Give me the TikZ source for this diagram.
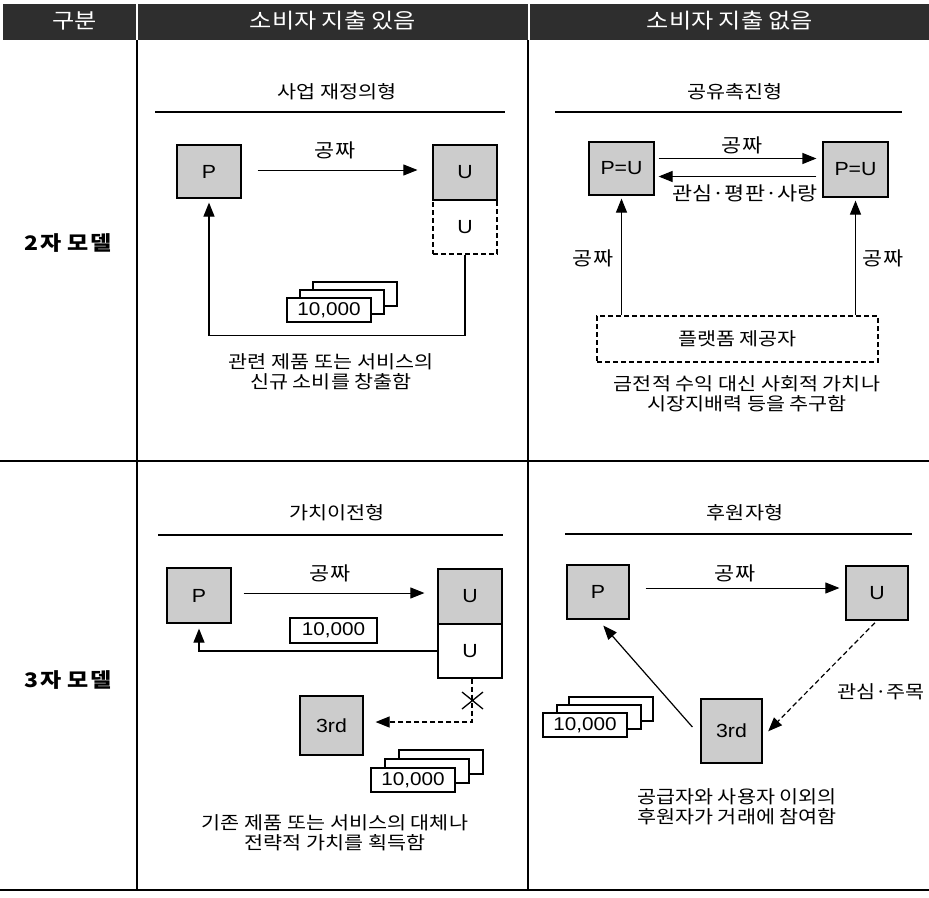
\documentclass[tikz,border=0pt]{standalone}
\usepackage{fontspec}
\setmainfont{Noto Sans CJK KR}
\newfontfamily\krs{Noto Sans CJK KR}[FakeStretch=1.15]
\newfontfamily\krw{Noto Sans CJK KR}[FakeStretch=1.15, LetterSpace=6]
\newfontfamily\lat{Liberation Sans}[FakeStretch=1.12]
\usetikzlibrary{arrows.meta,calc}
\tikzset{
  box/.style={draw, line width=1.2pt, fill=black!20, inner sep=0pt, font=\lat\fontsize{19}{20}\selectfont},
  wbox/.style={draw, line width=1.2pt, fill=white, inner sep=0pt, font=\lat\fontsize{19}{20}\selectfont},
  bill/.style={draw, line width=1.2pt, fill=white, minimum width=84pt, minimum height=24pt, inner sep=0pt, font=\lat\fontsize{18.5}{20}\selectfont},
  lbl/.style={font=\krs\fontsize{18}{20}\selectfont, inner sep=1pt},
  albl/.style={font=\krs\fontsize{19}{20}\selectfont, inner sep=1pt},
  captxt/.style={font=\krs\fontsize{18}{19.5}\selectfont, align=center, inner sep=0pt},
  arr/.style={line width=1.2pt, -{Triangle[length=14pt,width=11pt]}},
  dsh/.style={dash pattern=on 5pt off 3pt},
  hd/.style={text=white, font=\krs\fontsize{21}{22}\selectfont},
  rowl/.style={font=\krw\bfseries\fontsize{20}{22}\selectfont},
  gridln/.style={line width=1.3pt},
  uline/.style={line width=1.1pt}
}
\begin{document}
\begin{tikzpicture}[x=1pt,y=-1pt]
\useasboundingbox (0,0) rectangle (929,897);
% header
\fill[black!82] (3,4) rectangle (929,40);
\draw[white, line width=1.2pt] (137,4) -- (137,40);
\draw[white, line width=1.2pt] (529,4) -- (529,40);
\node[hd] (h1) at (75,21) {구분};
\node[hd] (h2) at (333,21) {소비자 지출 있음};
\node[hd] (h3) at (730,21) {소비자 지출 없음};
% grid
\draw[gridln] (137,40) -- (137,890);
\draw[gridln] (528,40) -- (528,890);
\draw[gridln] (0,461) -- (929,461);
\draw[gridln] (0,890) -- (929,890);
\node[rowl] (r1) at (68,243) {2자 모델};
\node[rowl] (r2) at (68,680) {3자 모델};

% ---------- Q1 ----------
\node[lbl] (t1) at (337,92) {사업 재정의형};
\draw[uline] (155,112) -- (505,112);
\node[box, minimum width=64pt, minimum height=53pt] (P1) at (209,171.5) {P};
\node[wbox, dsh, minimum width=64pt, minimum height=54pt] (U1b) at (465,227) {U};
\node[box, minimum width=64pt, minimum height=55pt] (U1a) at (465,172.5) {U};
\node[albl] (f1) at (335,150) {공짜};
\draw[arr, line width=0.9pt, shorten <=16pt, shorten >=15pt] (P1.east |- 0,170) -- (U1a.west |- 0,170);
\draw[arr, shorten >=4pt] (U1b.south) -- ++(0,81) -| (P1.south);
\node[bill] (b1c) at (355,294) {};
\node[bill] (b1b) at (342,302) {};
\node[bill] (b1a) at (329,310) {10,000};
\node[captxt] (c1) at (331,372) {관련 제품 또는 서비스의\\신규 소비를 창출함};

% ---------- Q2 ----------
\node[lbl] (t2) at (735,92) {공유촉진형};
\draw[uline] (555,112) -- (902,112);
\node[box, minimum width=65pt, minimum height=53pt] (L2) at (621.5,168.5) {P=U};
\node[box, minimum width=65pt, minimum height=55pt] (R2) at (855.5,169.5) {P=U};
\draw[arr] ($(L2.east)+(4,-10)$) -- ($(R2.west)+(-6,-11)$);
\draw[arr] ($(R2.west)+(-6,7)$) -- ($(L2.east)+(4,8)$);
\node[albl] (f2) at (742,145) {공짜};
\node[albl] (g2) at (745,193) {관심·평판·사랑};
\node[draw, dsh, line width=1.2pt, minimum width=281pt, minimum height=46pt, lbl] (plat) at (737.5,339) {플랫폼 제공자};
\draw[arr, shorten >=3pt] (L2.south |- plat.north) -- (L2.south);
\draw[arr, shorten >=3pt] (R2.south |- plat.north) -- (R2.south);
\node[albl] (f2l) at (593,258) {공짜};
\node[albl] (f2r) at (883,258) {공짜};
\node[captxt] (c2) at (747,394) {금전적 수익 대신 사회적 가치나\\시장지배력 등을 추구함};

% ---------- Q3 ----------
\node[lbl] (t3) at (337,513) {가치이전형};
\draw[uline] (158,535) -- (503,535);
\node[box, minimum width=64pt, minimum height=55pt] (P3) at (199,595.5) {P};
\node[box, minimum width=64pt, minimum height=55pt] (U3a) at (470,596.5) {U};
\node[wbox, minimum width=64pt, minimum height=54pt] (U3b) at (470,651) {U};
\node[albl] (f3) at (330,573) {공짜};
\draw[arr, line width=0.9pt, shorten <=12pt, shorten >=13pt] (P3.east |- 0,593) -- (U3a.west |- 0,593);
\draw[arr, shorten >=5pt] (U3b.west) -| (P3.south);
\node[bill, minimum width=87pt, minimum height=25pt] (b3s) at (333.5,630.5) {10,000};
\node[box, minimum width=63pt, minimum height=59pt] (T3) at (331.5,725.5) {3rd};
\coordinate (k3) at (472,722);
\draw[arr, dsh, shorten >=12pt] (U3b.south -| k3) -- (k3) -- (T3.east |- k3);
\draw[line width=1.3pt] (462,692) -- (483,709) (462,709) -- (483,692);
\node[bill] (b3c) at (441,762) {};
\node[bill] (b3b) at (427,771) {};
\node[bill] (b3a) at (413,780) {10,000};
\node[captxt] (c3) at (335,833) {기존 제품 또는 서비스의 대체나\\전략적 가치를 획득함};

% ---------- Q4 ----------
\node[lbl] (t4) at (745,513) {후원자형};
\draw[uline] (565,534) -- (912,534);
\node[box, minimum width=62pt, minimum height=54pt] (P4) at (598,592) {P};
\node[box, minimum width=62pt, minimum height=54pt] (U4) at (877,593) {U};
\node[albl] (f4) at (735,573) {공짜};
\draw[arr, line width=0.9pt, shorten <=16pt, shorten >=6pt] (P4.east |- 0,588) -- (U4.west |- 0,588);
\node[box, minimum width=61pt, minimum height=64pt] (T4) at (731.5,731) {3rd};
\draw[arr, shorten >=8pt] ($(T4.west)+(-8,-4)$) -- (P4.south);
\draw[arr, dsh, shorten <=3pt, shorten >=8pt] (U4.south) -- ($(T4.east)+(0,6)$);
\node[lbl, anchor=west] (g4) at (836,692) {관심·주목};
\node[bill] (b4c) at (611,709) {};
\node[bill] (b4b) at (599,717) {};
\node[bill] (b4a) at (585,725) {10,000};
\node[captxt] (c4) at (737,807) {공급자와 사용자 이외의\\후원자가 거래에 참여함};
\end{tikzpicture}
\end{document}
